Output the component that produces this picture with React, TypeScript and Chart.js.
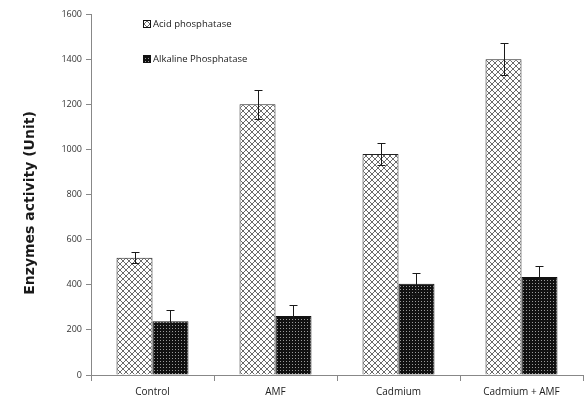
import React, { useEffect, useRef } from "react";
import { Chart, registerables } from "chart.js";

Chart.register(...registerables);

const categories = ["Control", "AMF", "Cadmium", "Cadmium + AMF"];
const seriesNames = ["Acid phosphatase", "Alkaline Phosphatase"];
const acidValues = [520, 1200, 980, 1400];
const acidErrors = [25, 65, 50, 70];
const alkalineValues = [238, 262, 404, 434];
const alkalineErrors = [48, 50, 50, 50];
const yTicks = [0, 200, 400, 600, 800, 1000, 1200, 1400, 1600];
const yTitle = "Enzymes activity (Unit)";

function makeCrossPattern(): CanvasPattern | string {
  const c = document.createElement("canvas");
  c.width = 6;
  c.height = 6;
  const g = c.getContext("2d");
  if (!g) return "#fff";
  g.fillStyle = "#ffffff";
  g.fillRect(0, 0, 6, 6);
  g.strokeStyle = "#6a6a6a";
  g.lineWidth = 1;
  g.beginPath();
  g.moveTo(0, 0);
  g.lineTo(6, 6);
  g.moveTo(6, 0);
  g.lineTo(0, 6);
  g.stroke();
  const p = g.createPattern(c, "repeat");
  return p || "#fff";
}

function makeDotPattern(): CanvasPattern | string {
  const c = document.createElement("canvas");
  c.width = 3;
  c.height = 3;
  const g = c.getContext("2d");
  if (!g) return "#222";
  g.fillStyle = "#111111";
  g.fillRect(0, 0, 3, 3);
  g.fillStyle = "#9a9a9a";
  g.fillRect(1, 1, 1, 1);
  const p = g.createPattern(c, "repeat");
  return p || "#222";
}

export default function App() {
  const ref = useRef<HTMLCanvasElement | null>(null);

  useEffect(() => {
    document.body.style.margin = "0";
    const canvas = ref.current;
    if (!canvas) return;
    const acidFill = makeCrossPattern();
    const alkFill = makeDotPattern();
    const errors = [acidErrors, alkalineErrors];
    const fills = [acidFill, alkFill];

    const errorBars = {
      id: "errorBars",
      afterDatasetsDraw(chart: any) {
        const ctx = chart.ctx;
        const y = chart.scales.y;
        ctx.save();
        ctx.strokeStyle = "#1a1a1a";
        ctx.lineWidth = 1;
        chart.data.datasets.forEach((ds: any, i: number) => {
          const meta = chart.getDatasetMeta(i);
          meta.data.forEach((el: any, j: number) => {
            const v = ds.data[j];
            const e = errors[i][j];
            const x = Math.round(el.x) + 0.5;
            const yt = Math.round(y.getPixelForValue(v + e)) + 0.5;
            const yb = Math.round(y.getPixelForValue(v - e)) + 0.5;
            ctx.beginPath();
            ctx.moveTo(x, yt);
            ctx.lineTo(x, yb);
            ctx.moveTo(x - 4, yt);
            ctx.lineTo(x + 4, yt);
            ctx.moveTo(x - 4, yb);
            ctx.lineTo(x + 4, yb);
            ctx.stroke();
          });
        });
        ctx.restore();
      },
    };

    const extras = {
      id: "extras",
      afterDraw(chart: any) {
        const ctx = chart.ctx;
        ctx.save();
        const items = [
          { y: 24, fill: fills[0], label: seriesNames[0] },
          { y: 59, fill: fills[1], label: seriesNames[1] },
        ];
        ctx.font = "9.5px 'Open Sans'";
        ctx.textBaseline = "middle";
        items.forEach((it) => {
          ctx.fillStyle = it.fill as any;
          ctx.fillRect(143, it.y - 4, 8, 8);
          ctx.strokeStyle = "#111";
          ctx.lineWidth = 1;
          ctx.strokeRect(143.5, it.y - 3.5, 7, 7);
          ctx.fillStyle = "#1a1a1a";
          ctx.fillText(it.label, 153, it.y);
        });
        ctx.translate(30, 203);
        ctx.rotate(-Math.PI / 2);
        ctx.font = "bold 14px 'DejaVu Sans', sans-serif";
        ctx.textAlign = "center";
        ctx.textBaseline = "middle";
        ctx.fillStyle = "#1a1a1a";
        ctx.fillText(yTitle, 0, 0);
        ctx.restore();
      },
    };

    const chart = new Chart(canvas, {
      type: "bar",
      data: {
        labels: categories,
        datasets: [
          {
            label: seriesNames[0],
            data: acidValues,
            backgroundColor: acidFill as any,
            borderColor: "#222",
            borderWidth: 1,
            categoryPercentage: 0.585,
            barPercentage: 1,
          },
          {
            label: seriesNames[1],
            data: alkalineValues,
            backgroundColor: alkFill as any,
            borderColor: "#111",
            borderWidth: 1,
            categoryPercentage: 0.585,
            barPercentage: 1,
          },
        ],
      },
      options: {
        animation: false,
        responsive: false,
        layout: { padding: { top: 14, right: 1, left: 0, bottom: 0 } },
        plugins: {
          legend: { display: false },
          tooltip: { enabled: false },
        },
        scales: {
          x: {
            grid: {
              display: true,
              drawOnChartArea: false,
              drawTicks: true,
              tickLength: 6,
              color: "#888",
              offset: true,
            },
            border: { display: true, color: "#888", width: 1 },
            ticks: {
              color: "#222",
              font: { family: "'Open Sans'", size: 10 },
              padding: 5,
              maxRotation: 0,
            },
            afterFit(scale: any) {
              scale.height = 27;
            },
          },
          y: {
            min: 0,
            max: 1600,
            afterBuildTicks(scale: any) {
              scale.ticks = yTicks.map((v) => ({ value: v }));
            },
            grid: {
              display: true,
              drawOnChartArea: false,
              drawTicks: true,
              tickLength: 5,
              color: "#888",
            },
            border: { display: true, color: "#888", width: 1 },
            ticks: {
              color: "#333",
              font: { family: "'Open Sans'", size: 9 },
              padding: 4,
              callback: (v: any) => String(v),
            },
            afterFit(scale: any) {
              scale.width = 91;
            },
          },
        },
      },
      plugins: [errorBars, extras],
    });
    return () => chart.destroy();
  }, []);

  return (
    <div style={{ width: 584, height: 402, background: "#fff" }}>
      <canvas ref={ref} width={584} height={402} style={{ display: "block" }} />
    </div>
  );
}
